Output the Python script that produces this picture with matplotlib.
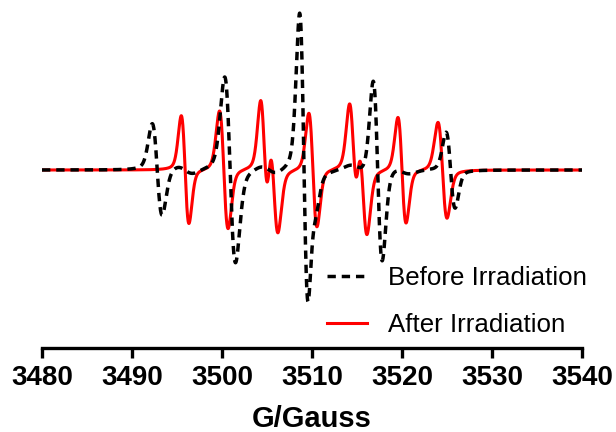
import numpy as np
import matplotlib.pyplot as plt

plt.rcParams['font.family'] = ['Liberation Sans', 'DejaVu Sans']

# EPR lines: centre (G), half peak-to-peak height, peak-to-peak width (G)
before_center = [3492.8, 3500.9, 3509.1, 3517.3, 3525.4, 3495.9, 3505.2, 3510.1, 3515.1, 3520.0]
before_amp = [46, 93, 155, 91, 38, 4, 4, 24, 4, 3]
before_width = [1.1, 1.2, 0.95, 1.0, 1.0, 1.8, 1.8, 0.9, 1.8, 1.8]

after_center = [3495.9, 3500.2, 3504.7, 3505.75, 3510.1, 3514.6, 3515.65, 3520.0, 3524.5]
after_amp = [54, 59, 63, 59, 57, 60, 60, 53, 48]
after_width = [0.85, 0.95, 0.85, 0.95, 0.9, 0.9, 0.95, 0.9, 1.0]

field = np.linspace(3480, 3540, 4000)


def spectrum(centers, amps, widths, eta=0.25):
    # first-derivative pseudo-Voigt lines, lobe height = amp
    y = np.zeros_like(field)
    for c, a, pp in zip(centers, amps, widths):
        s = pp / 2
        ug = (field - c) / s
        gauss = -ug * np.exp(0.5 - ug**2 / 2)
        gl = pp * np.sqrt(3) / 2
        ul = (field - c) / gl
        lor = (-2 * ul / (1 + ul**2) ** 2) / (9 / (8 * np.sqrt(3)))
        y += a * ((1 - eta) * gauss + eta * lor)
    return y


fig = plt.figure(figsize=(6.16, 4.32), dpi=100)
ax = fig.add_axes([42 / 616, 84 / 432, 540 / 616, 348 / 432])

ax.plot(field, spectrum(after_center, after_amp, after_width), color='#ff0000', lw=2.2,
        label='After Irradiation', zorder=2)
ax.plot(field, spectrum(before_center, before_amp, before_width), color='black', lw=2.5,
        linestyle=(0, (2.4, 1.7)), label='Before Irradiation', zorder=3)

ax.set_xlim(3480, 3540)
ax.set_ylim(-178, 170)
ax.set_xticks(np.arange(3480, 3541, 10))
ax.set_yticks([])
for s in ['top', 'right', 'left']:
    ax.spines[s].set_visible(False)
ax.spines['bottom'].set_linewidth(2.4)
ax.tick_params(axis='x', length=7.5, width=2.4, pad=5, labelsize=20)
for t in ax.get_xticklabels():
    t.set_fontweight('bold')
ax.set_xlabel('G/Gauss', fontsize=21, fontweight='bold', labelpad=10)

h, l = ax.get_legend_handles_labels()
ax.legend(h[::-1], l[::-1], loc='upper left', bbox_to_anchor=(327 / 616, 1 - 266 / 432),
          bbox_transform=fig.transFigure, frameon=False, fontsize=18.6, handlelength=1.55,
          handletextpad=0.8, labelspacing=0.9, borderpad=0, borderaxespad=0)

fig.savefig('out.png', dpi=100)
